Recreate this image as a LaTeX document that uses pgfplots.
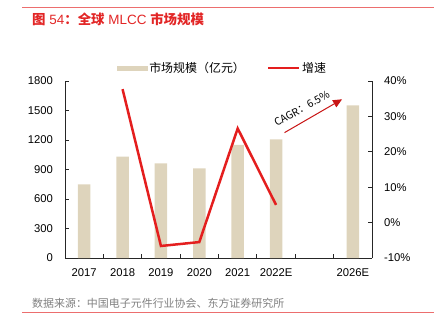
\documentclass[border=0pt]{standalone}
\usepackage{fontspec}
\setmainfont{Liberation Sans}
\newfontfamily\cjk{Noto Sans CJK SC}
\usepackage{pgfplots}
\pgfplotsset{compat=1.18}
\usetikzlibrary{arrows.meta}
\definecolor{barc}{RGB}{222,212,188}
\definecolor{linec}{RGB}{228,30,30}
\definecolor{titc}{RGB}{226,38,38}
\definecolor{rulec}{RGB}{236,110,110}
\definecolor{arrc}{RGB}{200,20,20}
\begin{document}
\begin{tikzpicture}[x=1bp,y=1bp]
\path[use as bounding box] (0,0) rectangle (441,323);
\draw[rulec, line width=0.8bp] (22,315.7) -- (434,315.7);
\node[anchor=west, text=titc, font=\fontsize{13.5}{15}\selectfont, inner sep=0] at (32,304) {{\cjk\bfseries 图} 54{\cjk\bfseries ：全球} MLCC {\cjk\bfseries 市场规模}};
\draw[rulec, line width=0.8bp] (22,10.7) -- (434,10.7);
\node[anchor=west, text=black!50, font=\cjk\fontsize{11}{13}\selectfont, inner sep=0] at (32,20) {数据来源：中国电子元件行业协会、东方证券研究所};

\pgfplotsset{
  myaxis/.style={
    at={(65bp,65bp)}, anchor=south west, scale only axis, width=307bp, height=177bp,
    xmin=-0.5, xmax=7.5,
    tick align=inside,
    major tick length=4bp, minor tick length=4bp,
    axis line style={-, black!85, line width=0.8bp},
    every tick/.style={black!85, line width=0.8bp},
    /pgf/number format/assume math mode=true,
    /pgf/number format/1000 sep={},
    tick label style={font=\fontsize{11.3}{13}\selectfont},
  }
}

\begin{axis}[myaxis,
  ymin=0, ymax=1800, ytick={0,300,...,1800},
  xtick={0,1,2,3,4,5,7}, xticklabels={2017,2018,2019,2020,2021,2022E,2026E},
  minor xtick={0.5,1.5,...,6.5},
  major x tick style={draw=none},
  axis x line*=bottom, axis y line*=left,
  yticklabel style={inner sep=0pt, xshift=-12bp},
  xticklabel style={inner sep=0pt, yshift=-10.5bp},
]
\addplot[ybar, bar width=12.5bp, fill=barc, draw=none] coordinates {
  (0,750) (1,1030) (2,963) (3,912) (4,1150) (5,1207) (7,1553)
};
\draw[-{Triangle[length=9bp,width=8bp]}, arrc, line width=1bp] (5.22,1275) -- (6.72,1614);
\node[rotate=29, font=\cjk\fontsize{10.5}{12}\selectfont, inner sep=0] at (5.67,1520) {CAGR：6.5\%};
\end{axis}

\begin{axis}[myaxis,
  ymin=-10, ymax=40, ytick={-10,0,...,40},
  yticklabel={\pgfmathprintnumber{\tick}\%},
  axis x line=none, axis y line*=right,
  yticklabel style={inner sep=0pt, xshift=12bp},
  legend columns=2,
  legend style={at={(0.513,1.075)}, anchor=center, draw=none, fill=none,
    font=\cjk\fontsize{12}{14}\selectfont,
    /tikz/every even column/.append style={column sep=20bp}},
]
\addlegendimage{legend image code/.code={\fill[barc] (0bp,-2bp) rectangle (30bp,2bp);}}
\addlegendentry{市场规模（亿元）}
\addplot[linec, line width=2.5bp, legend image code/.code={\draw[linec,line width=2.3bp] (0bp,0bp) -- (31bp,0bp);}] coordinates {
  (1,37.7) (2,-6.6) (3,-5.5) (4,26.6) (5,5)
};
\addlegendentry{增速}
\end{axis}
\end{tikzpicture}
\end{document}
